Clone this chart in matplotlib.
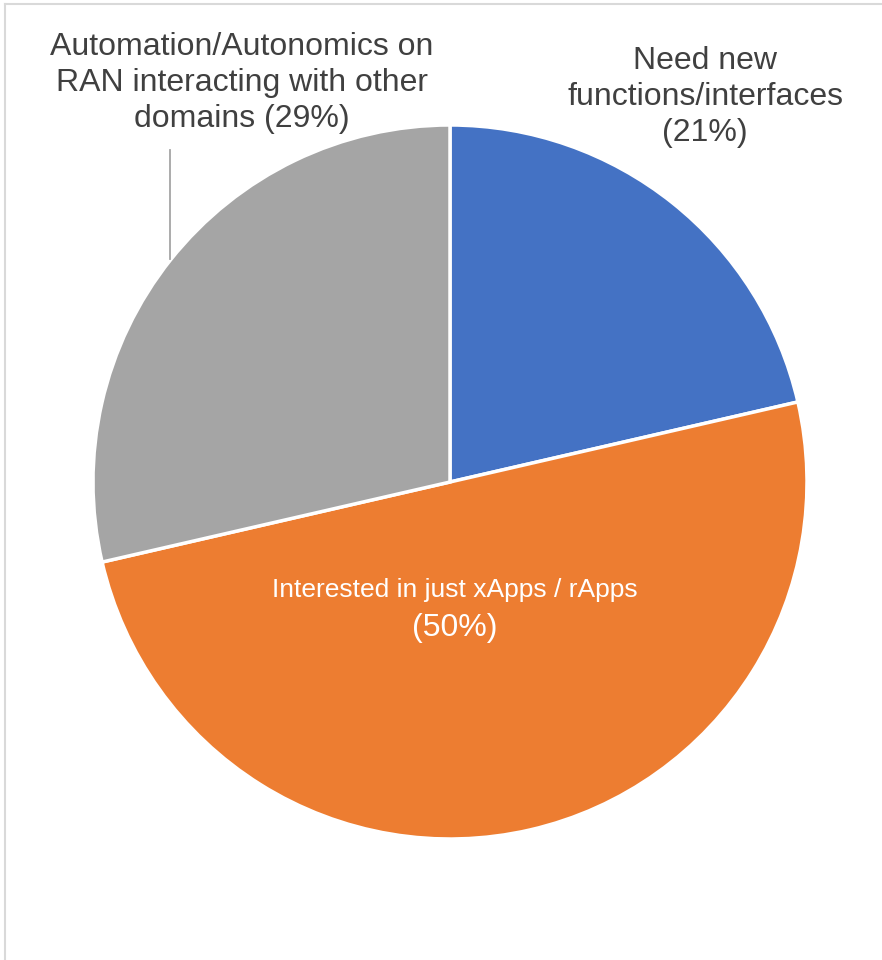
import matplotlib.pyplot as plt

plt.rcParams['font.family'] = ['Liberation Sans', 'DejaVu Sans']

categories = ['Need new\nfunctions/interfaces', 'Interested in just xApps / rApps',
              'Automation/Autonomics on\nRAN interacting with other\ndomains']
shares = [21.4, 50.0, 28.6]
colors = ['#4472C4', '#ED7D31', '#A5A5A5']

fig = plt.figure(figsize=(8.82, 9.6), dpi=100)
ax = fig.add_axes([0, 0, 1, 1])

# pie in pixel space (y measured from bottom)
ax.pie(shares, colors=colors, startangle=90, counterclock=False,
       center=(450, 478), radius=357, frame=True,
       wedgeprops=dict(edgecolor='white', linewidth=2.5))
ax.set_xlim(0, 882)
ax.set_ylim(0, 960)
ax.set_aspect('equal')
ax.axis('off')

pct = ['({}%)'.format(round(v)) for v in shares]

ax.text(705, 960 - 97, categories[0] + '\n' + pct[0], ha='center', va='center',
        fontsize=23, color='#404040', linespacing=1.27)
ax.text(242, 960 - 83, categories[2] + ' ' + pct[2], ha='center', va='center',
        fontsize=23, color='#404040', linespacing=1.27)
ax.text(455, 960 - 590, categories[1], ha='center', va='center',
        fontsize=19, color='white')
ax.text(455, 960 - 628, pct[1], ha='center', va='center',
        fontsize=23, color='white')

# leader line for the gray label
ax.plot([170, 170], [960 - 150, 960 - 259], color='#A5A5A5', lw=1.3)

# chart border (top and left visible)
ax.plot([5, 5], [0, 956], color='#D9D9D9', lw=1.5)
ax.plot([5, 882], [956, 956], color='#D9D9D9', lw=1.5)

fig.savefig('out.png', dpi=100)
